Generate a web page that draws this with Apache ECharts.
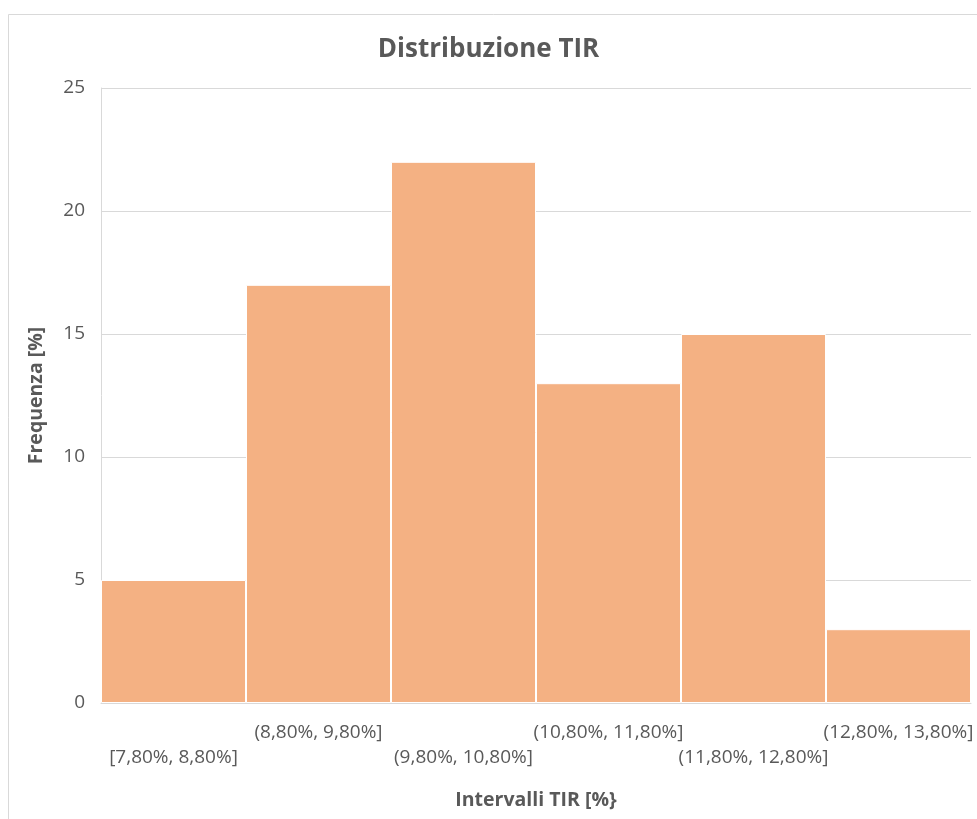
<!DOCTYPE html>
<html>
<head>
<meta charset="utf-8">
<script src="https://cdn.jsdelivr.net/npm/echarts@6/dist/echarts.min.js"></script>
<style>
  html, body { margin: 0; padding: 0; background: #fff; }
  #chart { width: 977px; height: 819px; }
</style>
</head>
<body>
<div id="chart"></div>
<script>
// Histogram bins (IRR intervals) and their frequencies
const categories = [
  '[7,80%, 8,80%]',
  '(8,80%, 9,80%]',
  '(9,80%, 10,80%]',
  '(10,80%, 11,80%]',
  '(11,80%, 12,80%]',
  '(12,80%, 13,80%]'
];
const frequencies = [5, 17, 22, 13, 15, 3];
const yTicks = { min: 0, max: 25, interval: 5 };

const textColor = '#595959';
const gridColor = '#D9D9D9';
const barColor = '#F4B183';
const fontFamily = '"Open Sans", Lato, sans-serif';

const chart = echarts.init(document.getElementById('chart'), null, { renderer: 'canvas' });

chart.setOption({
  backgroundColor: '#ffffff',
  animation: false,
  title: {
    text: 'Distribuzione TIR',
    left: 'center',
    top: 32,
    textStyle: { color: textColor, fontSize: 26, fontWeight: 'bold', fontFamily }
  },
  graphic: [{
    type: 'rect',
    shape: { x: 8.5, y: 14.5, width: 1000, height: 900 },
    style: { fill: 'none', stroke: gridColor, lineWidth: 1 },
    silent: true,
    z: -1
  }],
  grid: { left: 101, right: 6, top: 88, bottom: 116, containLabel: false },
  xAxis: {
    type: 'category',
    data: categories,
    boundaryGap: true,
    name: 'Intervalli TIR [%}',
    nameLocation: 'middle',
    nameGap: 87,
    nameTextStyle: { color: textColor, fontSize: 19.5, fontWeight: 'bold', fontFamily },
    axisLine: { lineStyle: { color: gridColor } },
    axisTick: { show: false },
    axisLabel: {
      interval: 0,
      color: textColor,
      fontSize: 19,
      fontFamily,
      margin: 17,
      lineHeight: 25,
      formatter: (v, i) => (i % 2 === 0 ? '\n' : '') + v
    }
  },
  yAxis: {
    type: 'value',
    min: yTicks.min,
    max: yTicks.max,
    interval: yTicks.interval,
    name: 'Frequenza [%]',
    nameLocation: 'middle',
    nameGap: 55,
    nameRotate: 90,
    nameTextStyle: { color: textColor, fontSize: 19.5, fontWeight: 'bold', fontFamily },
    axisLine: { show: true, lineStyle: { color: gridColor } },
    axisTick: { show: false },
    axisLabel: { color: textColor, fontSize: 19, fontFamily, margin: 16 },
    splitLine: { lineStyle: { color: gridColor, width: 1 } }
  },
  series: [{
    type: 'bar',
    data: frequencies,
    barCategoryGap: 0,
    itemStyle: { color: barColor, borderColor: '#ffffff', borderWidth: 1 }
  }]
});
</script>
</body>
</html>
